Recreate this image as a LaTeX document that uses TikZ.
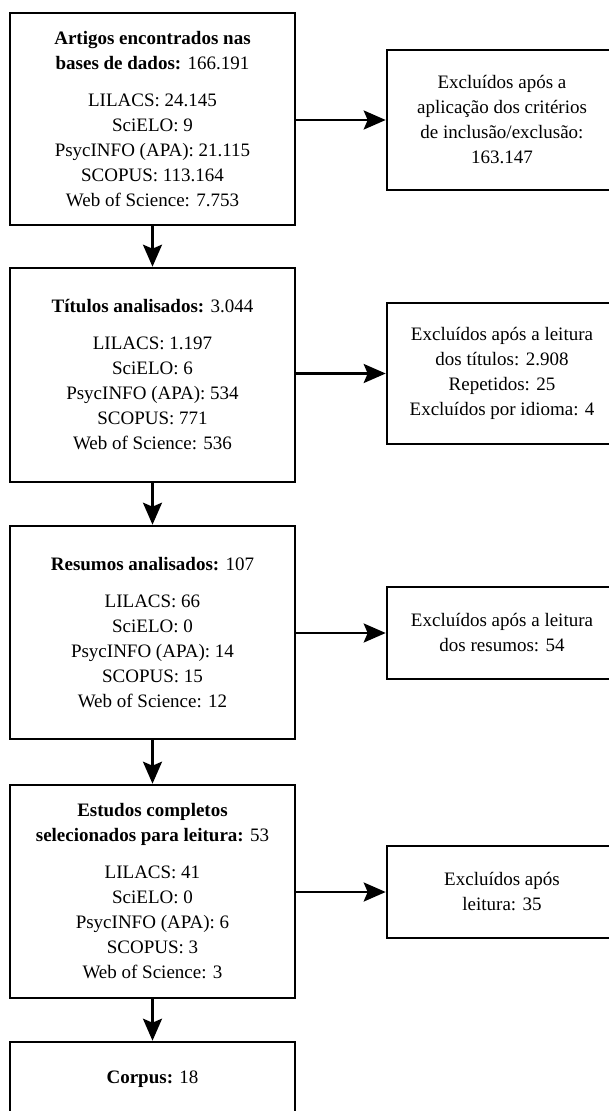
\documentclass[tikz,border=0pt]{standalone}
\usepackage{fontspec}
\setmainfont{Liberation Serif}
\usetikzlibrary{arrows.meta}
\tikzset{
  box/.style={draw, line width=2.6pt, align=center, inner sep=0pt,
    font=\fontsize{19}{25}\selectfont},
  leftbox/.style={box, minimum width=285pt, minimum height=213pt},
  rightbox/.style={box, minimum width=230pt},
  arr/.style={line width=2.6pt, -{Stealth[length=22pt,width=19pt,inset=4pt]}}
}
\begin{document}
\begin{tikzpicture}[x=1pt,y=-1pt]
\useasboundingbox (0,0) rectangle (609,1111);
\fill[white] (0,0) rectangle (609,1111);
\clip (0,0) rectangle (609,1111);

\node[leftbox, minimum height=212pt] (b1) at (152.5,119)
  {\textbf{Artigos encontrados nas}\\ \textbf{bases de dados:} 166.191\\[12pt]
   LILACS: 24.145\\ SciELO: 9\\ PsycINFO (APA): 21.115\\ SCOPUS: 113.164\\ Web of Science: 7.753};
\node[leftbox, minimum height=214pt] (b2) at (152.5,375)
  {\textbf{Títulos analisados:} 3.044\\[12pt]
   LILACS: 1.197\\ SciELO: 6\\ PsycINFO (APA): 534\\ SCOPUS: 771\\ Web of Science: 536};
\node[leftbox] (b3) at (152.5,632.5)
  {\textbf{Resumos analisados:} 107\\[12pt]
   LILACS: 66\\ SciELO: 0\\ PsycINFO (APA): 14\\ SCOPUS: 15\\ Web of Science: 12};
\node[leftbox] (b4) at (152.5,891.5)
  {\textbf{Estudos completos}\\ \textbf{selecionados para leitura:} 53\\[12pt]
   LILACS: 41\\ SciELO: 0\\ PsycINFO (APA): 6\\ SCOPUS: 3\\ Web of Science: 3};
\node[leftbox, minimum height=74pt] (b5) at (152.5,1079)
  {\textbf{Corpus:} 18};

\node[rightbox, minimum height=140pt] (r1) at (502,120)
  {Excluídos após a\\ aplicação dos critérios\\ de inclusão/exclusão:\\ 163.147};
\node[rightbox, minimum height=141pt] (r2) at (502,373.5)
  {Excluídos após a leitura\\ dos títulos: 2.908\\ Repetidos: 25\\ Excluídos por idioma: 4};
\node[rightbox, minimum height=92pt] (r3) at (502,633)
  {Excluídos após a leitura\\ dos resumos: 54};
\node[rightbox, minimum height=92pt] (r4) at (502,892)
  {Excluídos após\\ leitura: 35};

\draw[arr] (b1.south) -- (b2.north);
\draw[arr] (b2.south) -- (b3.north);
\draw[arr] (b3.south) -- (b4.north);
\draw[arr] (b4.south) -- (b5.north);

\draw[arr] (r1.west -| b1.east) -- (r1.west);
\draw[arr] (r2.west -| b2.east) -- (r2.west);
\draw[arr] (r3.west -| b3.east) -- (r3.west);
\draw[arr] (r4.west -| b4.east) -- (r4.west);
\end{tikzpicture}
\end{document}
